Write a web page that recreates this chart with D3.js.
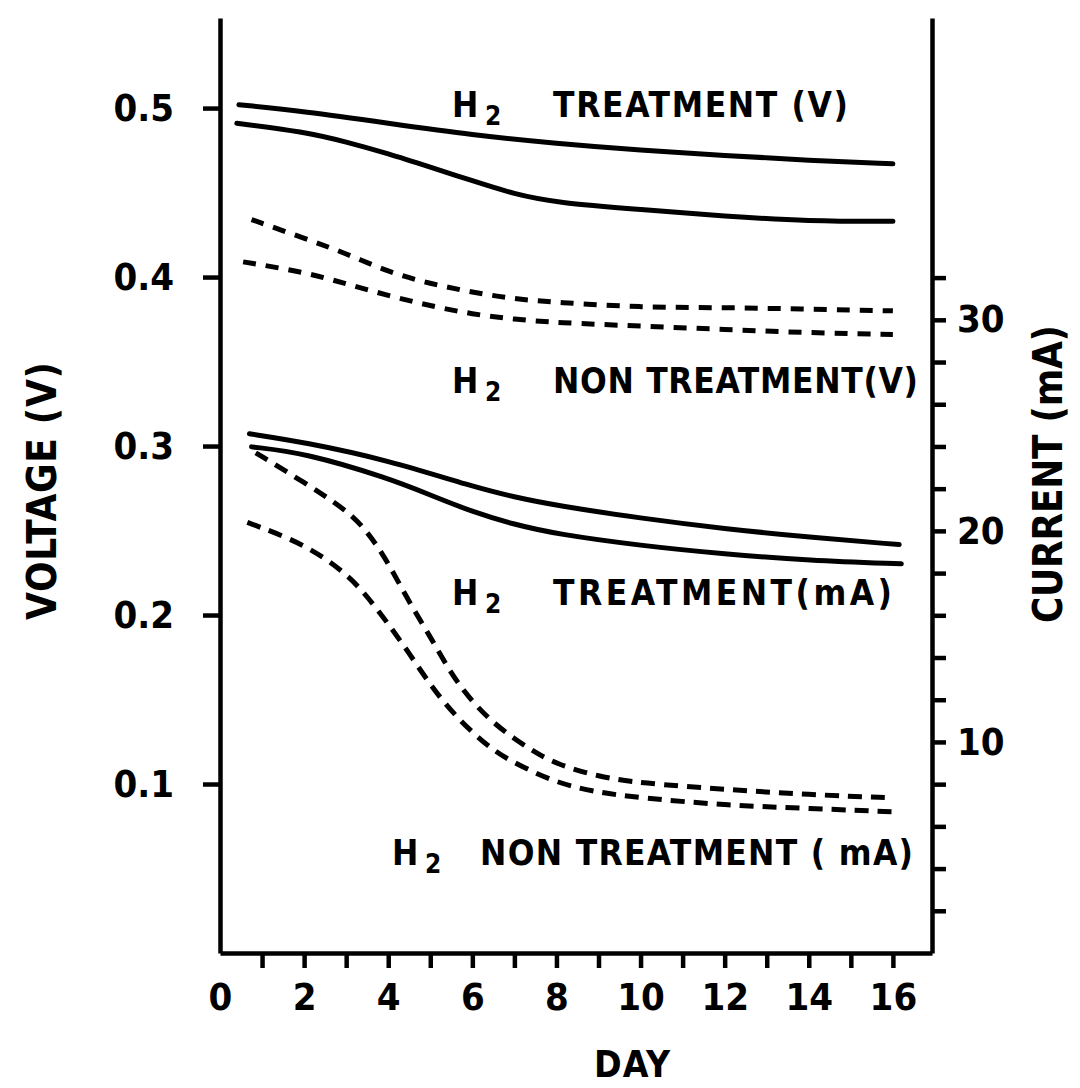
<!DOCTYPE html>
<html>
<head>
<meta charset="utf-8">
<script src="https://cdn.jsdelivr.net/npm/d3@7"></script>
<style>
  body { margin: 0; background: #fff; }
  svg text { font-family: "DejaVu Sans Condensed", "DejaVu Sans", sans-serif; font-weight: bold; fill: #000; }
</style>
</head>
<body>
<div id="chart"></div>
<script>
// readings [day, value] taken off the figure, one array per curve
const h2TreatVoltHigh = [[0.45,0.502],[2,0.498],[4,0.491],[6,0.484],[8,0.479],[10,0.475],[12,0.472],[14,0.469],[16,0.467]];
const h2TreatVoltLow = [[0.4,0.491],[2,0.486],[3,0.480],[4,0.473],[5,0.465],[6,0.457],[7,0.449],[8,0.444],[10,0.440],[12,0.436],[14,0.433],[16,0.433]];
const h2NonVoltHigh = [[0.75,0.434],[2,0.423],[3,0.414],[4,0.403],[5,0.396],[6,0.391],[7,0.387],[8,0.385],[10,0.382],[12,0.382],[14,0.381],[16,0.380]];
const h2NonVoltLow = [[0.55,0.409],[2,0.403],[3,0.396],[4,0.389],[5,0.383],[6,0.378],[7,0.375],[8,0.373],[10,0.371],[12,0.369],[14,0.367],[16,0.366]];
const h2TreatCurrHigh = [[0.7,24.6],[2,24.2],[4,23.35],[6,22.1],[7,21.6],[8,21.2],[10,20.6],[12,20.1],[14,19.7],[16.15,19.35]];
const h2TreatCurrLow = [[0.75,23.98],[2,23.7],[4,22.5],[5,21.7],[6,20.9],[7,20.3],[8,19.85],[10,19.3],[12,18.9],[14,18.6],[16.2,18.44]];
const h2NonCurrHigh = [[0.85,23.7],[2,22.3],[3,21.0],[3.5,20.0],[4,18.5],[4.5,16.6],[5,15.0],[5.5,13.2],[6,11.9],[6.5,10.9],[7,10.15],[7.5,9.5],[8,8.95],[9,8.35],[10,8.05],[12,7.75],[14,7.5],[16,7.35]];
const h2NonCurrLow = [[0.65,20.4],[2,19.4],[3,18.0],[3.5,16.9],[4,15.6],[4.5,14.2],[5,12.7],[5.5,11.45],[6,10.45],[6.5,9.6],[7,9.0],[8,8.05],[9,7.6],[10,7.35],[12,7.0],[14,6.85],[16.15,6.68]];

const dayTicks = [0,1,2,3,4,5,6,7,8,9,10,11,12,13,14,15,16];
const dayLabels = [0,2,4,6,8,10,12,14,16];
const voltTicks = [0.1,0.2,0.3,0.4,0.5];
const currentTicks = [2,4,6,8,10,12,14,16,18,20,22,24,26,28,30,32];
const currentLabels = [10,20,30];

const width = 1080, height = 1088;
const svg = d3.select("#chart").append("svg")
  .attr("width", width)
  .attr("height", height);

const x = d3.scaleLinear().domain([0, 16.93]).range([220, 932]);
const yVolt = d3.scaleLinear().domain([0, 0.5533]).range([953, 18]);
const yCurr = d3.scaleLinear().domain([0, 44.3]).range([953, 18]);

function styleAxis(g, size) {
  g.select(".domain").attr("stroke", "#000").attr("stroke-width", 4.5);
  g.selectAll(".tick line").attr("stroke", "#000").attr("stroke-width", 4.5);
  g.selectAll(".tick text").attr("font-size", size);
}

// left axis (voltage)
const leftAxis = svg.append("g")
  .attr("transform", "translate(220,0)")
  .call(d3.axisLeft(yVolt).tickValues(voltTicks).tickSize(17).tickSizeOuter(0)
    .tickPadding(29).tickFormat(d3.format(".1f")));
styleAxis(leftAxis, 38);

// right axis (current)
const rightAxis = svg.append("g")
  .attr("transform", "translate(932,0)")
  .call(d3.axisRight(yCurr).tickValues(currentTicks).tickSize(14).tickSizeOuter(0)
    .tickPadding(11).tickFormat(d => currentLabels.includes(d) ? d : ""));
styleAxis(rightAxis, 38);

// bottom axis (day)
const bottomAxis = svg.append("g")
  .attr("transform", "translate(0,953)")
  .call(d3.axisBottom(x).tickValues(dayTicks).tickSize(15).tickSizeOuter(0)
    .tickPadding(15).tickFormat(d => dayLabels.includes(d) ? d : ""));
styleAxis(bottomAxis, 38);
bottomAxis.selectAll(".tick").filter(d => d === 0).select("line").remove();

// curves
const series = [
  { data: h2TreatVoltHigh, y: yVolt, dash: null },
  { data: h2TreatVoltLow, y: yVolt, dash: null },
  { data: h2NonVoltHigh, y: yVolt, dash: "13,10" },
  { data: h2NonVoltLow, y: yVolt, dash: "13,10" },
  { data: h2TreatCurrHigh, y: yCurr, dash: null },
  { data: h2TreatCurrLow, y: yCurr, dash: null },
  { data: h2NonCurrHigh, y: yCurr, dash: "14,9" },
  { data: h2NonCurrLow, y: yCurr, dash: "14,9" }
];

series.forEach(s => {
  const line = d3.line()
    .x(d => x(d[0]))
    .y(d => s.y(d[1]))
    .curve(d3.curveBasis);
  svg.append("path")
    .datum(s.data)
    .attr("fill", "none")
    .attr("stroke", "#000")
    .attr("stroke-width", 5)
    .attr("stroke-linecap", s.dash ? "butt" : "round")
    .attr("stroke-dasharray", s.dash)
    .attr("d", line);
});

// curve labels: H, subscript 2, then the rest
function curveLabel(hx, base, tx, text, len) {
  svg.append("text").attr("x", hx).attr("y", base).attr("font-size", 35).text("H");
  svg.append("text").attr("x", hx + 33).attr("y", base + 8).attr("font-size", 26).text("2");
  svg.append("text").attr("x", tx).attr("y", base).attr("font-size", 35)
    .attr("textLength", len).attr("lengthAdjust", "spacing").text(text);
}
curveLabel(452, 117, 553, "TREATMENT (V)", 295);
curveLabel(452, 393, 553, "NON TREATMENT(V)", 365);
curveLabel(452, 605, 553, "TREATMENT(mA)", 339);
curveLabel(392, 865, 480, "NON TREATMENT ( mA)", 433);

// axis titles
svg.append("text")
  .attr("transform", "translate(56,491) rotate(-90)")
  .attr("text-anchor", "middle").attr("font-size", 40)
  .attr("textLength", 258).attr("lengthAdjust", "spacing")
  .text("VOLTAGE (V)");
svg.append("text")
  .attr("transform", "translate(1062,474) rotate(-90)")
  .attr("text-anchor", "middle").attr("font-size", 40)
  .attr("textLength", 298).attr("lengthAdjust", "spacing")
  .text("CURRENT (mA)");
svg.append("text")
  .attr("x", 632).attr("y", 1077)
  .attr("text-anchor", "middle").attr("font-size", 37)
  .attr("textLength", 76).attr("lengthAdjust", "spacing")
  .text("DAY");
</script>
</body>
</html>
